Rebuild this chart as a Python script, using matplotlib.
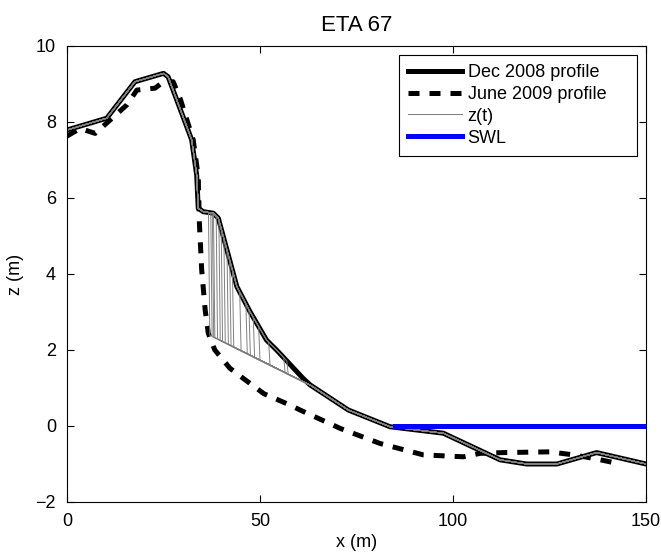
import numpy as np
import matplotlib
matplotlib.use('Agg')
import matplotlib.pyplot as plt

plt.rcParams['font.family'] = ['Liberation Sans', 'DejaVu Sans']
plt.rcParams['font.size'] = 13

# Dec 2008 profile
dec_x = [0, 10.3, 17.6, 25.0, 26.2, 32.3, 33.6, 34.0, 35.3, 37.9, 39.2, 44.0, 47.4,
         51.7, 54.3, 61.2, 63.0, 72.9, 83.7, 97.5, 112.2, 119.1, 126.9, 137.2, 150]
dec_z = [7.79, 8.10, 9.06, 9.28, 9.19, 7.53, 6.6, 5.73, 5.64, 5.60, 5.47, 3.67, 3.01,
         2.26, 2.0, 1.25, 1.08, 0.42, -0.02, -0.19, -0.89, -1.0, -1.0, -0.70, -1.0]

# June 2009 profile
jun_x = [0, 3.4, 7.3, 10.7, 15.5, 18.1, 22.8, 24.5, 27.5, 29.3, 32.7, 34.0, 34.3, 34.9,
         35.8, 36.6, 38.3, 42.2, 45.7, 51.0, 57.8, 60.4, 70.7, 81.1, 92.3, 102.7, 107.0,
         113.0, 125.1, 131.2, 136.3, 141.5]
jun_z = [7.63, 7.83, 7.70, 8.01, 8.45, 8.84, 8.89, 9.02, 9.06, 8.62, 7.53, 6.56, 5.33, 4.1,
         3.05, 2.44, 2.0, 1.52, 1.25, 0.85, 0.55, 0.42, -0.06, -0.46, -0.76, -0.81, -0.72,
         -0.70, -0.68, -0.76, -0.85, -0.96]

# eroded scarp base line and scarp positions of z(t)
base_x = [37.0, 62.5]
base_z = [2.39, 1.10]
scarp_x = [37.0, 37.6, 38.0, 38.3, 39.0, 39.7, 40.3, 41.0, 41.8, 42.5, 43.2, 45.1,
           46.7, 47.5, 48.6, 50.0, 52.6, 56.5, 57.3]

# still water level
swl_x = [85, 150]
swl_z = [0, 0]

fig = plt.figure(figsize=(6.61, 5.56), dpi=100)
ax = fig.add_axes([67/661, 54/556, 579/661, 456/556])

ax.plot(dec_x, dec_z, color='k', lw=3.6, solid_joinstyle='round', label='Dec 2008 profile')
ax.plot(jun_x, jun_z, color='k', lw=3.6, dashes=(2.2, 2.0), label='June 2009 profile')

# z(t) profiles: Dec profile cut back to the scarp base line
slope = (base_z[1] - base_z[0]) / (base_x[1] - base_x[0])
dx = np.array(dec_x, dtype=float)
dz = np.array(dec_z, dtype=float)
for i, xs in enumerate(scarp_x):
    xx = np.sort(np.unique(np.concatenate([dx, [xs], np.linspace(xs, base_x[1], 40)])))
    zdec = np.interp(xx, dx, dz)
    zline = base_z[0] + slope * (xx - base_x[0])
    inside = (xx >= xs) & (xx <= base_x[1])
    zz = np.where(inside, np.minimum(zdec, zline), zdec)
    # vertical drop at the scarp
    k = np.searchsorted(xx, xs)
    xx = np.insert(xx, k, xs - 0.35)
    zz = np.insert(zz, k, np.interp(xs - 0.35, dx, dz))
    ax.plot(xx, zz, color='0.5', lw=0.7, label='z(t)' if i == 0 else None)

ax.plot(swl_x, swl_z, color=(0, 0, 1), lw=3.6, label='SWL')

ax.set_xlim(0, 150)
ax.set_ylim(-2, 10)
ax.set_xticks([0, 50, 100, 150])
ax.set_yticks([-2, 0, 2, 4, 6, 8, 10])
ax.set_yticklabels(['\u22122', '0', '2', '4', '6', '8', '10'])
ax.tick_params(direction='in', length=5, width=0.8, top=True, right=True, pad=8)
for s in ax.spines.values():
    s.set_linewidth(0.8)

ax.set_title('ETA 67', fontsize=16, pad=11)
ax.set_xlabel('x (m)', labelpad=3)
ax.set_ylabel('z (m)', labelpad=8)

leg = ax.legend(loc='upper left', bbox_to_anchor=(0.5734, 0.5, 0.4111, 0.4803),
                mode='expand', borderaxespad=0, fancybox=False, framealpha=1,
                edgecolor='k', handlelength=3.0, handletextpad=0.3,
                labelspacing=0.27, borderpad=0.5)
leg.get_frame().set_linewidth(0.8)

fig.savefig('out.png', dpi=100)
